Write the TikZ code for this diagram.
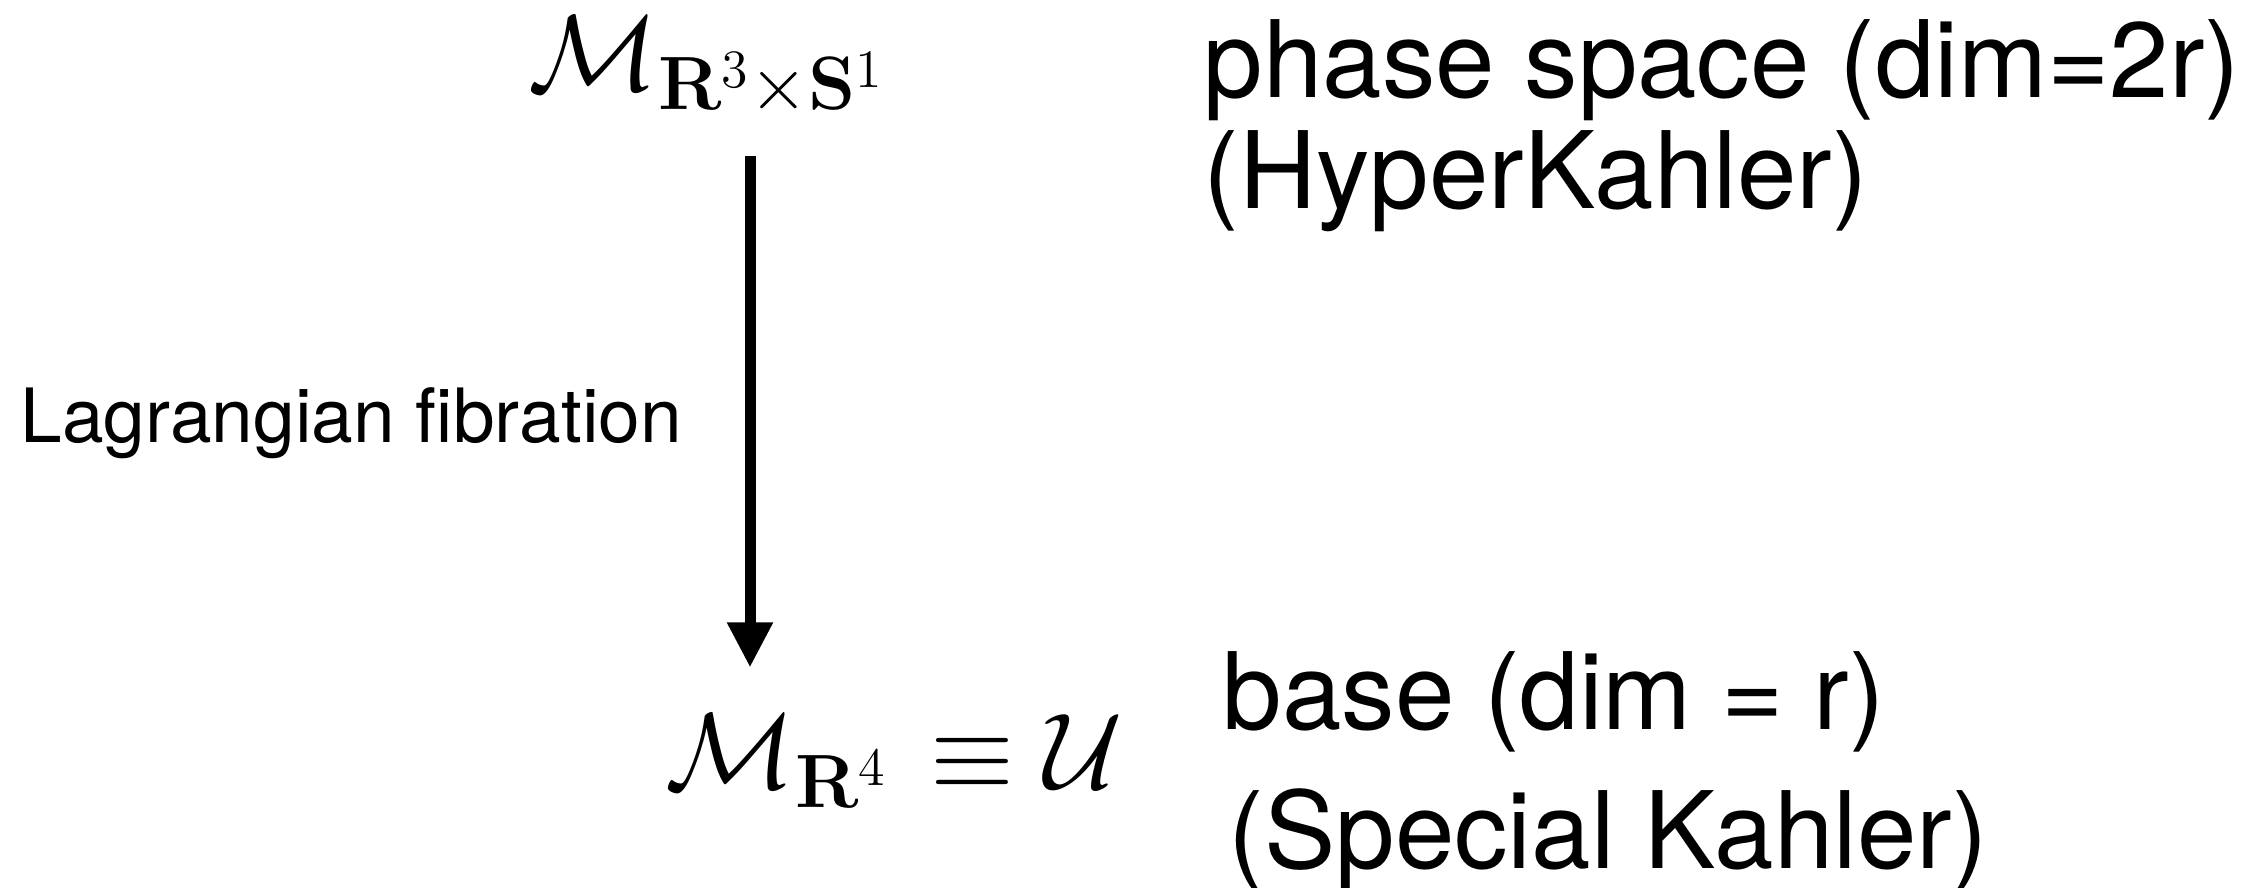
\RequirePackage{fix-cm}
\documentclass[tikz,border=0pt]{standalone}
\usepackage{amsmath}
\usepackage{fontspec}
\setmainfont{TeX Gyre Heros}
\usetikzlibrary{arrows.meta}
\DeclareMathAlphabet{\mathcmbf}{OT1}{cmr}{bx}{n}

\begin{document}
\begin{tikzpicture}[x=0.01cm, y=-0.01cm, >={Triangle[length=0.45cm, width=0.43cm]},
  every node/.style={inner sep=0pt, anchor=base west},
  mathtxt/.style={font=\fontsize{30.7}{37}\selectfont},
  sidetxt/.style={font=\fontsize{30.4}{36}\selectfont},
  arrowtxt/.style={font=\fontsize{21.3}{26}\selectfont}]
  \useasboundingbox (0,0) rectangle (2265,887);
  % total space and base
  \node[mathtxt] (tot) at (528,90) {$\mathcal{M}_{\mathcmbf{R}^3\times\mathcmbf{S}^1}$};
  \node[mathtxt] (bas) at (665,788) {$\mathcal{M}_{\mathcmbf{R}^4}\mkern2mu\equiv\mathcal{U}$};
  % descriptions on the right
  \node[sidetxt] (ps) at (1203,97)  {phase space (dim=2r)};
  \node[sidetxt] (hk) at (1203,208) {(HyperKahler)};
  \node[sidetxt] (bs) at (1222,729) {base (dim = r)};
  \node[sidetxt] (sk) at (1228,868) {(Special Kahler)};
  % projection
  \coordinate (ax) at (750,0);
  \draw[->, line width=0.11cm, shorten <=0.40cm, shorten >=0.46cm] (tot.south -| ax) -- (bas.north -| ax);
  \node[arrowtxt] (lf) at (20,442) {Lagrangian fibration};
\end{tikzpicture}
\end{document}
